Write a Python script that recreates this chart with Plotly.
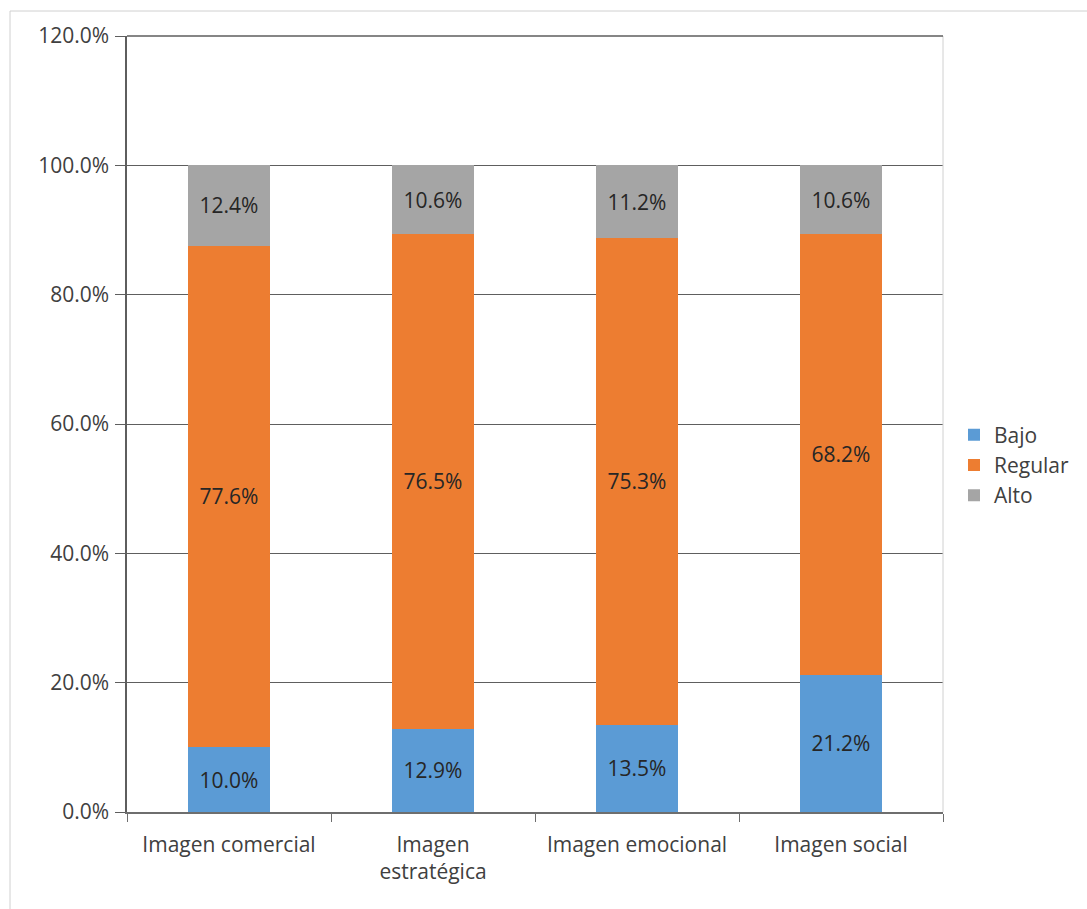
import plotly.graph_objects as go

categories = ["Imagen comercial", "Imagen<br>estratégica", "Imagen emocional", "Imagen social"]
bajo = [0.100, 0.129, 0.135, 0.212]
regular = [0.776, 0.765, 0.753, 0.682]
alto = [0.124, 0.106, 0.112, 0.106]
y_ticks = [0, 0.2, 0.4, 0.6, 0.8, 1.0, 1.2]

FONT = "Open Sans"
FS = 21
series = [("Bajo", bajo, "#5B9BD5"), ("Regular", regular, "#ED7D31"), ("Alto", alto, "#A5A5A5")]

fig = go.Figure()
for name, vals, col in series:
    fig.add_trace(go.Bar(
        x=categories, y=vals, name=name, marker=dict(color=col, line=dict(width=0)),
        texttemplate="%{y:.1%}", textposition="inside", insidetextanchor="middle",
        textangle=0, textfont=dict(family=FONT, size=FS, color="#262626"),
        constraintext="none",
    ))

W, H = 1087, 909
L, R, T, B = 127, 144, 36, 97
pw, ph = W - L - R, H - T - B

fig.update_layout(
    width=W, height=H, barmode="stack", bargap=0.6,
    margin=dict(l=L, r=R, t=T, b=B, pad=0, autoexpand=False),
    paper_bgcolor="white", plot_bgcolor="white",
    font=dict(family=FONT, size=FS, color="#404040"),
    uniformtext=dict(minsize=FS, mode="show"),
    legend=dict(x=(954 - L) / pw, y=(812 - 465) / ph, xanchor="left", yanchor="middle",
                traceorder="normal", font=dict(family=FONT, size=FS, color="#404040"),
                itemwidth=30, tracegroupgap=0, bgcolor="rgba(0,0,0,0)"),
    xaxis=dict(showgrid=False, showline=True, linecolor="#6e6e6e", linewidth=1.5,
               ticks="outside", tickson="boundaries", ticklen=8, tickcolor="#6e6e6e",
               ticklabelstandoff=13,
               tickfont=dict(family=FONT, size=FS, color="#404040")),
    yaxis=dict(range=[0, 1.2], tickvals=y_ticks, tickformat=".1%",
               showgrid=True, gridcolor="#5e5e5e", gridwidth=1,
               showline=True, linecolor="#5e5e5e", linewidth=1.5,
               ticks="outside", ticklen=10, tickcolor="#5e5e5e",
               ticklabelstandoff=2,
               tickfont=dict(family=FONT, size=FS, color="#404040"), zeroline=False),
    shapes=[
        dict(type="line", xref="paper", yref="paper", x0=1, x1=1, y0=0, y1=1,
             line=dict(color="#d0d0d0", width=1)),
        dict(type="line", xref="paper", yref="paper", x0=0, x1=1, y0=1, y1=1,
             line=dict(color="#5e5e5e", width=1.5)),
        dict(type="line", xref="paper", yref="paper", x0=(10 - L) / pw, x1=(W - L) / pw,
             y0=(812 - 11) / ph, y1=(812 - 11) / ph, line=dict(color="#d0d0d0", width=1)),
        dict(type="line", xref="paper", yref="paper", x0=(10 - L) / pw, x1=(10 - L) / pw,
             y0=(812 - 11) / ph, y1=(812 - H) / ph, line=dict(color="#d0d0d0", width=1)),
    ],
)

fig.write_html("out.html")
